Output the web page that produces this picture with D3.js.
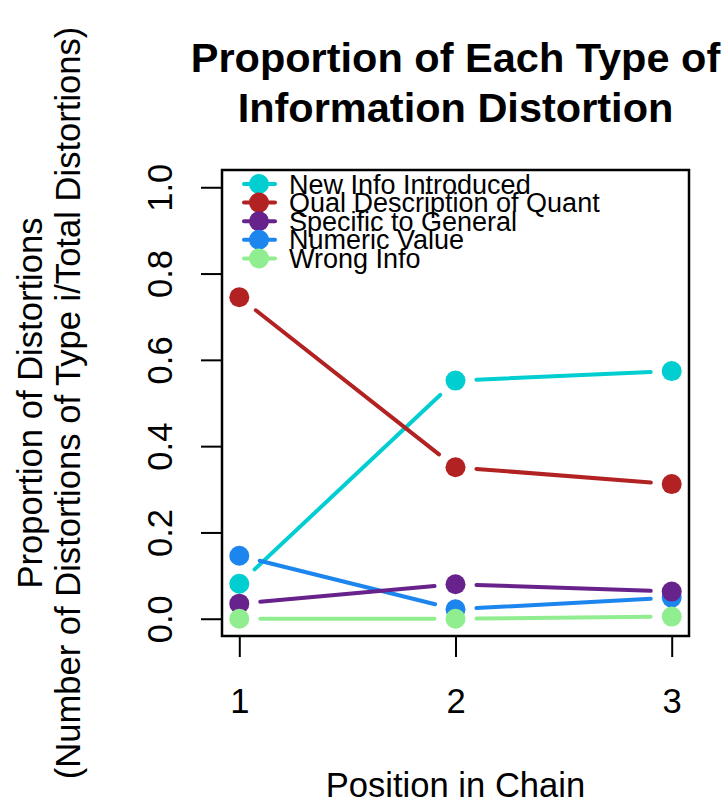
<!DOCTYPE html>
<html>
<head>
<meta charset="utf-8">
<script src="https://cdn.jsdelivr.net/npm/d3@7"></script>
<style>
  html, body { margin: 0; padding: 0; background: #fff; }
  svg { display: block; }
  text { font-family: "Liberation Sans", Arial, Helvetica, sans-serif; fill: #000; }
</style>
</head>
<body>
<svg id="chart" width="728" height="803"></svg>
<script>
// Positions along the chain
const positions = [1, 2, 3];

// Share of each distortion type at each position
const newInfo   = [0.081, 0.552, 0.574];
const qualDesc  = [0.745, 0.351, 0.312];
const specGen   = [0.035, 0.080, 0.063];
const numeric   = [0.146, 0.022, 0.049];
const wrongInfo = [0.000, 0.000, 0.005];

const seriesNames  = ["New Info Introduced", "Qual Description of Quant", "Specific to General", "Numeric Value", "Wrong Info"];
const seriesValues = [newInfo, qualDesc, specGen, numeric, wrongInfo];
const seriesColors = ["#00CED1", "#B22222", "#68228B", "#1C86EE", "#90EE90"];
// painting order of the series (later ones sit on top)
const drawOrder = [0, 1, 3, 2, 4];

const yTicks = [0, 0.2, 0.4, 0.6, 0.8, 1.0];

const svg = d3.select("#chart");
const box = { left: 222, right: 689, top: 170, bottom: 636 };

// R-style 4% padding around the data ranges
const x = d3.scaleLinear().domain([0.92, 3.08]).range([box.left, box.right]);
const y = d3.scaleLinear().domain([-0.04, 1.04]).range([box.bottom, box.top]);

const baseFont = 34.6;
const ptR = 10;       // point radius
const gap = 21;       // gap left between the line and each point

// Title
const title = svg.append("text")
  .attr("text-anchor", "middle")
  .style("font-size", "41.5px")
  .style("font-weight", "bold");
title.append("tspan").attr("x", (box.left + box.right) / 2).attr("y", 72).text("Proportion of Each Type of");
title.append("tspan").attr("x", (box.left + box.right) / 2).attr("y", 122).text("Information Distortion");

// Axes
const yAxis = d3.axisLeft(y).tickValues(yTicks).tickFormat(d3.format(".1f")).tickSize(21).tickSizeOuter(0);
const gy = svg.append("g").attr("transform", `translate(${box.left},0)`).call(yAxis);
gy.select(".domain").remove();
gy.selectAll(".tick line").attr("stroke", "#000").attr("stroke-width", 2);
gy.selectAll(".tick text")
  .attr("x", null).attr("dy", null)
  .attr("text-anchor", "middle")
  .attr("transform", "translate(-50,0) rotate(-90)")
  .style("font-size", baseFont + "px")
  .style("font-family", '"Liberation Sans", Arial, sans-serif');

const xAxis = d3.axisBottom(x).tickValues(positions).tickFormat(d3.format("d")).tickSize(21).tickSizeOuter(0);
const gx = svg.append("g").attr("transform", `translate(0,${box.bottom})`).call(xAxis);
gx.select(".domain").remove();
gx.selectAll(".tick line").attr("stroke", "#000").attr("stroke-width", 2);
gx.selectAll(".tick text")
  .attr("y", 77).attr("dy", null)
  .style("font-size", baseFont + "px")
  .style("font-family", '"Liberation Sans", Arial, sans-serif');

// Plot frame
svg.append("rect")
  .attr("x", box.left).attr("y", box.top)
  .attr("width", box.right - box.left).attr("height", box.bottom - box.top)
  .attr("fill", "none").attr("stroke", "#000").attr("stroke-width", 2.5);

// Axis titles
svg.append("text")
  .attr("text-anchor", "middle")
  .attr("x", (box.left + box.right) / 2).attr("y", 797)
  .style("font-size", baseFont + "px")
  .text("Position in Chain");

const ylab = svg.append("text")
  .attr("text-anchor", "middle")
  .attr("transform", `translate(0,${(box.top + box.bottom) / 2}) rotate(-90)`)
  .style("font-size", baseFont + "px");
ylab.append("tspan").attr("x", 0).attr("y", 42).text("Proportion of Distortions");
ylab.append("tspan").attr("x", 0).attr("y", 80).text("(Number of Distortions of Type i/Total Distortions)");

// Lines with gaps around the points, then the points
const plot = svg.append("g");
drawOrder.forEach(si => {
  const vals = seriesValues[si];
  const pts = positions.map((p, i) => [x(p), y(vals[i])]);
  const segs = [];
  for (let i = 0; i < pts.length - 1; i++) {
    const [x0, y0] = pts[i], [x1, y1] = pts[i + 1];
    const len = Math.hypot(x1 - x0, y1 - y0);
    if (len <= 2 * gap) continue;
    const ux = (x1 - x0) / len, uy = (y1 - y0) / len;
    segs.push([x0 + ux * gap, y0 + uy * gap, x1 - ux * gap, y1 - uy * gap]);
  }
  const g = plot.append("g");
  g.selectAll("line").data(segs).join("line")
    .attr("x1", d => d[0]).attr("y1", d => d[1])
    .attr("x2", d => d[2]).attr("y2", d => d[3])
    .attr("stroke", seriesColors[si]).attr("stroke-width", 4)
    .attr("stroke-linecap", "round");
  g.selectAll("circle").data(pts).join("circle")
    .attr("cx", d => d[0]).attr("cy", d => d[1]).attr("r", ptR)
    .attr("fill", seriesColors[si]);
});

// Legend
const legend = svg.append("g");
const legRowY = i => 184 + i * 18.6;
seriesNames.forEach((name, i) => {
  const ly = legRowY(i);
  legend.append("line")
    .attr("x1", 244).attr("x2", 275).attr("y1", ly).attr("y2", ly)
    .attr("stroke", seriesColors[i]).attr("stroke-width", 4).attr("stroke-linecap", "round");
  legend.append("circle").attr("cx", 259).attr("cy", ly).attr("r", ptR).attr("fill", seriesColors[i]);
  legend.append("text")
    .attr("x", 289).attr("y", ly + 9.5)
    .style("font-size", "27px")
    .text(name);
});
</script>
</body>
</html>
